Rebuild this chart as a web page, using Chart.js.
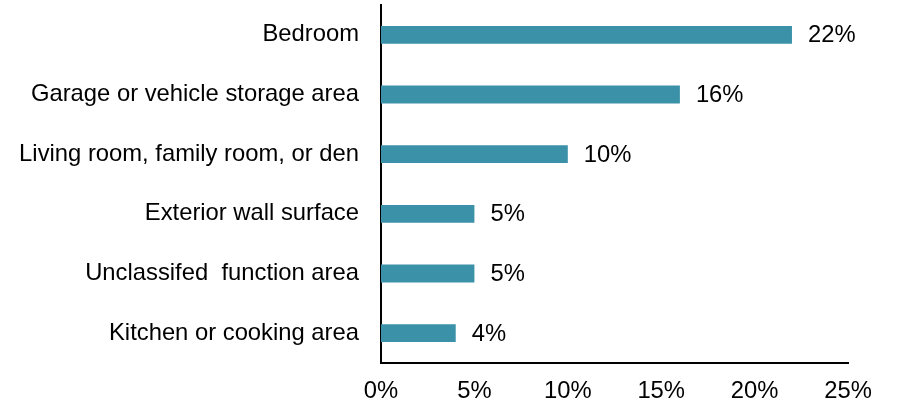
<!DOCTYPE html>
<html>
<head>
<meta charset="utf-8">
<script src="https://cdn.jsdelivr.net/npm/chart.js@4/dist/chart.umd.min.js"></script>
<style>
  html, body { margin: 0; padding: 0; background: #fff; }
  #wrap { width: 909px; height: 404px; }
</style>
</head>
<body>
<div id="wrap"><canvas id="myChart" width="909" height="404"></canvas></div>
<script>
    const areas = [
      'Bedroom',
      'Garage or vehicle storage area',
      'Living room, family room, or den',
      'Exterior wall surface',
      'Unclassifed  function area',
      'Kitchen or cooking area'
    ];
    const shares = [22, 16, 10, 5, 5, 4];
    const xTicks = [0, 5, 10, 15, 20, 25];

    const barColor = '#3a91a8';
    const fontFamily = "'Liberation Sans', Arial, sans-serif";
    const fontSize = 23.8;

    // percentage text just past the end of each bar
    const valueLabels = {
      id: 'valueLabels',
      afterDatasetsDraw(chart) {
        const ctx = chart.ctx;
        const meta = chart.getDatasetMeta(0);
        ctx.save();
        ctx.font = fontSize + 'px ' + fontFamily;
        ctx.fillStyle = '#000';
        ctx.textAlign = 'left';
        ctx.textBaseline = 'middle';
        meta.data.forEach((bar, i) => {
          ctx.fillText(shares[i] + '%', bar.x + 16, bar.y + 1);
        });
        ctx.restore();
      }
    };

    const ctx = document.getElementById('myChart').getContext('2d');

    const myChart = new Chart(ctx, {
      type: 'bar',
      data: {
        labels: areas,
        datasets: [{
          data: shares,
          backgroundColor: barColor,
          borderWidth: 0,
          barPercentage: 0.3,
          categoryPercentage: 1
        }]
      },
      options: {
        indexAxis: 'y',
        responsive: false,
        animation: false,
        layout: { padding: { top: 5, right: 61, bottom: 0, left: 0 } },
        plugins: {
          legend: { display: false },
          tooltip: { enabled: false }
        },
        scales: {
          x: {
            min: 0,
            max: 25,
            afterBuildTicks: (scale) => {
              scale.ticks = xTicks.map(v => ({ value: v }));
            },
            afterFit: (scale) => {
              scale.height = 41;
              scale.paddingLeft = 0;
              scale.paddingRight = 0;
            },
            grid: { display: false, drawTicks: false },
            border: { display: true, color: '#000', width: 2 },
            ticks: {
              padding: 14,
              color: '#000',
              font: { family: fontFamily, size: fontSize },
              callback: (v) => v + '%'
            }
          },
          y: {
            afterFit: (scale) => {
              scale.width = 381;
              scale.paddingTop = 0;
              scale.paddingBottom = 0;
            },
            grid: { display: false, drawTicks: false },
            border: { display: true, color: '#000', width: 2 },
            ticks: {
              padding: 22,
              color: '#000',
              font: { family: fontFamily, size: fontSize }
            }
          }
        }
      },
      plugins: [valueLabels]
    });
</script>
</body>
</html>
